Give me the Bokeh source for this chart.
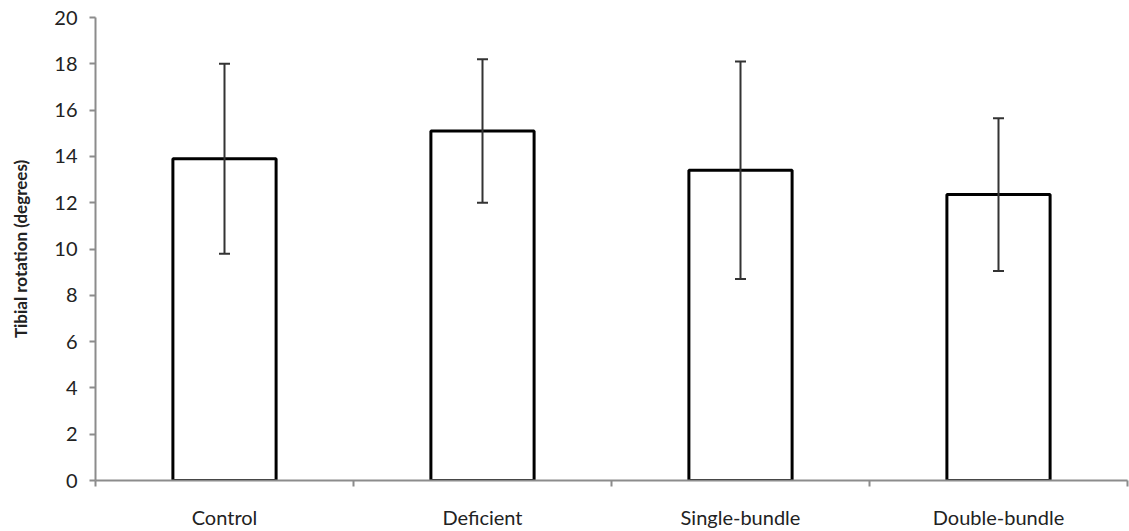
from bokeh.plotting import figure
from bokeh.models import ColumnDataSource, Range1d, FixedTicker, Whisker, TeeHead
from bokeh.embed import file_html
from bokeh.resources import INLINE

categories = ["Control", "Deficient", "Single-bundle", "Double-bundle"]
means = [13.9, 15.1, 13.4, 12.35]
sds = [4.1, 3.1, 4.7, 3.3]
y_ticks = [0, 2, 4, 6, 8, 10, 12, 14, 16, 18, 20]

xpos = [i + 0.5 for i in range(len(categories))]
src = ColumnDataSource(dict(
    x=xpos, top=means,
    upper=[m + s for m, s in zip(means, sds)],
    lower=[m - s for m, s in zip(means, sds)],
))

p = figure(width=1129, height=531, output_backend="svg", toolbar_location=None,
           x_range=Range1d(0, len(categories)), y_range=Range1d(0, 20),
           min_border_left=95, min_border_right=2, min_border_top=17, min_border_bottom=51)
p.outline_line_color = None
p.grid.grid_line_color = None
p.background_fill_color = "white"

p.vbar(x="x", top="top", width=0.4, source=src, fill_color="white",
       line_color="black", line_width=3)

w = Whisker(base="x", upper="upper", lower="lower", source=src,
            line_color="#333333", line_width=2, level="overlay",
            upper_head=TeeHead(size=11, line_color="#333333", line_width=2),
            lower_head=TeeHead(size=11, line_color="#333333", line_width=2))
p.add_layout(w)

font = "Lato"
axc = "#8c8c8c"

xa = p.xaxis[0]
xa.ticker = FixedTicker(ticks=xpos, minor_ticks=list(range(len(categories) + 1)))
xa.major_label_overrides = {x: c for x, c in zip(xpos, categories)}
xa.major_tick_line_color = None
xa.minor_tick_line_color = axc
xa.minor_tick_out = 6
xa.minor_tick_in = 0
xa.minor_tick_line_width = 2
xa.axis_line_color = axc
xa.axis_line_width = 2
xa.major_label_text_font = font
xa.major_label_text_font_size = "20px"
xa.major_label_text_color = "#222222"
xa.major_label_standoff = 18

ya = p.yaxis[0]
ya.ticker = FixedTicker(ticks=y_ticks)
ya.minor_tick_line_color = None
ya.major_tick_line_color = axc
ya.major_tick_out = 6
ya.major_tick_in = 0
ya.major_tick_line_width = 2
ya.axis_line_color = axc
ya.axis_line_width = 2
ya.major_label_text_font = font
ya.major_label_text_font_size = "20px"
ya.major_label_text_color = "#222222"
ya.major_label_standoff = 12
ya.axis_label = "Tibial rotation (degrees)"
ya.axis_label_text_font = font
ya.axis_label_text_font_size = "17px"
ya.axis_label_text_font_style = "bold"
ya.axis_label_text_color = "#222222"
ya.axis_label_standoff = 20

open("out.html", "w").write(file_html(p, INLINE))
